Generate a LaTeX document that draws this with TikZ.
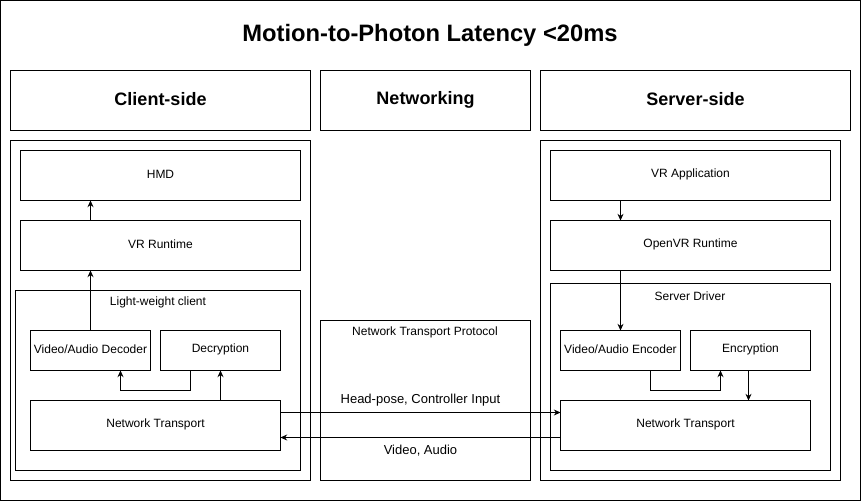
\documentclass[tikz,border=0pt]{standalone}
\usepackage{fontspec}
\setmainfont{Liberation Sans}
\usetikzlibrary{arrows.meta}
\begin{document}
\begin{tikzpicture}[x=0.75pt,y=-0.75pt,
  box/.style={draw=black,line width=0.75pt,fill=white},
  txt/.style={font=\fontsize{9}{11}\selectfont,inner sep=0pt},
  hdr/.style={font=\fontsize{13.5}{16}\selectfont\bfseries,inner sep=0pt},
  arr/.style={draw=black,line width=0.75pt,-{Stealth[length=5pt,width=4.5pt]}},
  lbl/.style={font=\fontsize{9.75}{12}\selectfont,inner sep=0pt}]
\useasboundingbox (0,0) rectangle (861,501);
\fill[white] (0,0) rectangle (861,501);
% outer
\draw[box] (0.5,0.5) rectangle (860.5,500.5);
\node[font=\fontsize{17.8}{21}\selectfont\bfseries,inner sep=0pt] (title) at (430,35) {Motion-to-Photon Latency <20ms};
% headers
\draw[box] (10.5,70.5) rectangle (310.5,130.5);
\node[hdr] (hc) at (160.5,99.5) {Client-side};
\draw[box] (320.5,70.5) rectangle (530.5,130.5);
\node[hdr] (hn) at (425.5,99.5) {Networking};
\draw[box] (540.5,70.5) rectangle (850.5,130.5);
\node[hdr] (hs) at (695.5,99.5) {Server-side};
% client side
\draw[box] (10.5,140.5) rectangle (310.5,480.5);
\draw[box] (20.5,150.5) rectangle (300.5,200.5);
\node[txt] (hmd) at (160.5,174.5) {HMD};
\coordinate (hmdB) at (90.5,200.5);
\draw[box] (20.5,220.5) rectangle (300.5,270.5);
\node[txt] (vrr) at (160.5,244.5) {VR Runtime};
\coordinate (vrrT) at (90.5,220.5);
\coordinate (vrrB) at (90.5,270.5);
\draw[box] (15.5,290.5) rectangle (300.5,470.5);
\node[txt] (lwc) at (158,302) {Light-weight client};
\draw[box] (30.5,330.5) rectangle (150.5,370.5);
\node[txt] (dec) at (90.5,349.5) {Video/Audio Decoder};
\coordinate (decT) at (90.5,330.5);
\coordinate (decB) at (120.5,370.5);
\draw[box] (160.5,330.5) rectangle (280.5,370.5);
\node[txt] (dcr) at (220.5,349.5) {Decryption};
\coordinate (dcrB1) at (190.5,370.5);
\coordinate (dcrB2) at (220.5,370.5);
\draw[box] (30.5,400.5) rectangle (280.5,450.5);
\node[txt] (cnt) at (155.5,424.5) {Network Transport};
\coordinate (cntT) at (220.5,400.5);
\coordinate (cntR1) at (280.5,412.5);
\coordinate (cntR2) at (280.5,437.5);
% networking
\draw[box] (320.5,320.5) rectangle (530.5,480.5);
\node[txt] (ntp) at (425,332) {Network Transport Protocol};
% server side
\draw[box] (540.5,140.5) rectangle (840.5,480.5);
\draw[box] (550.5,150.5) rectangle (830.5,200.5);
\node[txt] (vra) at (690.5,174.5) {VR Application};
\coordinate (vraB) at (620.5,200.5);
\draw[box] (550.5,220.5) rectangle (830.5,270.5);
\node[txt] (ovr) at (690.5,244.5) {OpenVR Runtime};
\coordinate (ovrT) at (620.5,220.5);
\coordinate (ovrB) at (620.5,270.5);
\draw[box] (550.5,283.5) rectangle (830.5,470.5);
\node[txt] (sd) at (690,296) {Server Driver};
\draw[box] (560.5,330.5) rectangle (680.5,370.5);
\node[txt] (enc) at (620.5,349.5) {Video/Audio Encoder};
\coordinate (encT) at (620.5,330.5);
\coordinate (encB) at (650.5,370.5);
\draw[box] (690.5,330.5) rectangle (810.5,370.5);
\node[txt] (ecr) at (750.5,349.5) {Encryption};
\coordinate (ecrB1) at (720.5,370.5);
\coordinate (ecrB2) at (748.5,370.5);
\draw[box] (560.5,400.5) rectangle (810.5,450.5);
\node[txt] (snt) at (685.5,424.5) {Network Transport};
\coordinate (sntT) at (748.5,400.5);
\coordinate (sntL1) at (560.5,412.5);
\coordinate (sntL2) at (560.5,437.5);
% arrows client
\draw[arr] (vrrT) -- (hmdB);
\draw[arr] (decT) -- (vrrB);
\draw[arr] (dcrB1) -- (190.5,390.5) -- (120.5,390.5) -- (decB);
\draw[arr] (cntT) -- (dcrB2);
% arrows server
\draw[arr] (vraB) -- (ovrT);
\draw[arr] (ovrB) -- (encT);
\draw[arr] (encB) -- (650.5,390.5) -- (720.5,390.5) -- (ecrB1);
\draw[arr] (ecrB2) -- (sntT);
% network arrows
\draw[arr] (cntR1) -- (sntL1);
\draw[arr] (sntL2) -- (cntR2);
\node[lbl] (hp) at (420.5,400) {Head-pose, Controller Input};
\node[lbl] (va) at (420.5,451) {Video, Audio};
\end{tikzpicture}
\end{document}
